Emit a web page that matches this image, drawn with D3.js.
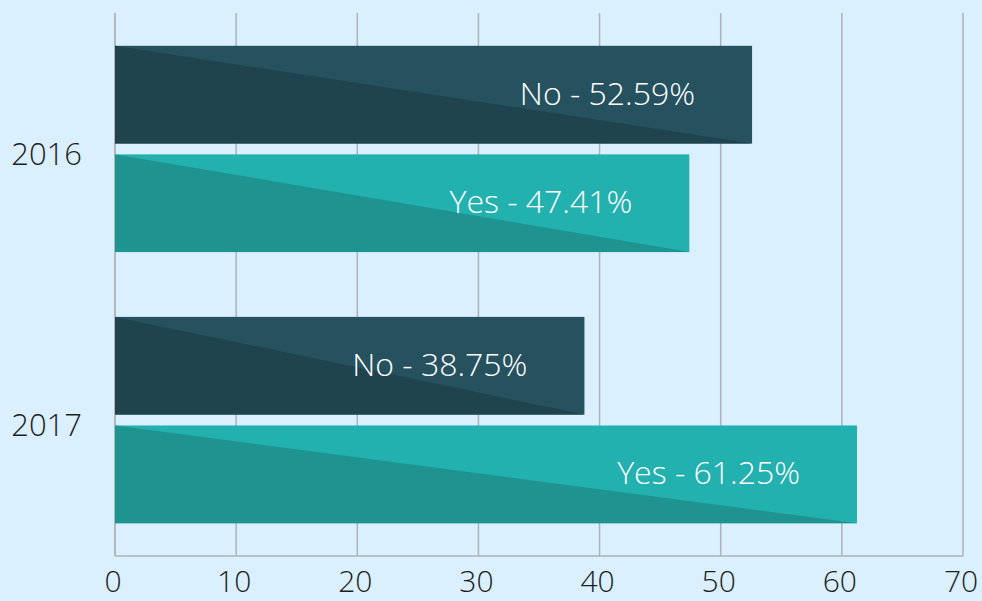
<!DOCTYPE html>
<html>
<head>
<meta charset="utf-8">
<script src="https://cdn.jsdelivr.net/npm/d3@7"></script>
<style>
  html, body { margin: 0; padding: 0; background: #daf0fe; }
  svg { display: block; }
</style>
</head>
<body>
<svg id="chart" width="982" height="601"></svg>
<script>
const years = ["2016", "2017"];
const answers = ["No", "Yes"];
const noValues = [52.59, 38.75];
const yesValues = [47.41, 61.25];
const xTicks = [0, 10, 20, 30, 40, 50, 60, 70];

const colors = {
  No: { light: "#26525f", dark: "#1f444e" },
  Yes: { light: "#22b1ae", dark: "#1e938f" }
};

const rows = [];
years.forEach((y, i) => {
  rows.push({ year: y, answer: "No", value: noValues[i] });
  rows.push({ year: y, answer: "Yes", value: yesValues[i] });
});

const svg = d3.select("#chart");
const plotLeft = 115, plotRight = 963, plotTop = 13, plotBottom = 556;

const x = d3.scaleLinear().domain([0, 70]).range([plotLeft, plotRight]);
const y0 = d3.scaleBand().domain(years).range([plotTop, plotBottom]).paddingInner(0.239).paddingOuter(0.121);
const y1 = d3.scaleBand().domain(answers).range([0, y0.bandwidth()]).paddingInner(0.1).paddingOuter(0);

// gridlines
svg.append("g").selectAll("line").data(xTicks.slice(1)).join("line")
  .attr("x1", d => x(d)).attr("x2", d => x(d))
  .attr("y1", plotTop).attr("y2", plotBottom)
  .attr("stroke", "#aeb3b8").attr("stroke-width", 1.5);

// left axis line and bottom line
svg.append("line").attr("x1", plotLeft).attr("x2", plotLeft).attr("y1", plotTop).attr("y2", plotBottom)
  .attr("stroke", "#b3b7bb").attr("stroke-width", 2);
svg.append("line").attr("x1", plotLeft).attr("x2", plotRight).attr("y1", plotBottom).attr("y2", plotBottom)
  .attr("stroke", "#aeb2b6").attr("stroke-width", 1.5);

// bars
const bars = svg.append("g").selectAll("g").data(rows).join("g")
  .attr("transform", d => `translate(0,${y0(d.year) + y1(d.answer)})`);

const h = y1.bandwidth();
bars.append("rect")
  .attr("x", x(0)).attr("y", 0)
  .attr("width", d => x(d.value) - x(0)).attr("height", h)
  .attr("fill", d => colors[d.answer].light);
bars.append("path")
  .attr("d", d => `M${x(0)},0 L${x(d.value)},${h} L${x(0)},${h} Z`)
  .attr("fill", d => colors[d.answer].dark);

bars.append("text")
  .attr("x", d => x(d.value) - 57)
  .attr("y", h / 2 + 10)
  .attr("text-anchor", "end")
  .attr("fill", "#ffffff")
  .attr("font-family", "'Open Sans', sans-serif")
  .attr("font-weight", 300)
  .attr("font-size", 32)
  .text(d => `${d.answer} - ${d.value.toFixed(2)}%`);

// y labels
svg.append("g").selectAll("text").data(years).join("text")
  .attr("x", 82)
  .attr("y", d => y0(d) + y0.bandwidth() / 2 + 16)
  .attr("text-anchor", "end")
  .attr("fill", "#1e1e1e")
  .attr("font-family", "'Open Sans', sans-serif")
  .attr("font-weight", 300)
  .attr("font-size", 31)
  .text(d => d);

// x tick labels
svg.append("g").selectAll("text").data(xTicks).join("text")
  .attr("x", d => x(d) - 2)
  .attr("y", 592)
  .attr("text-anchor", "middle")
  .attr("fill", "#1e1e1e")
  .attr("font-family", "'Open Sans', sans-serif")
  .attr("font-weight", 300)
  .attr("font-size", 30)
  .text(d => d);
</script>
</body>
</html>
